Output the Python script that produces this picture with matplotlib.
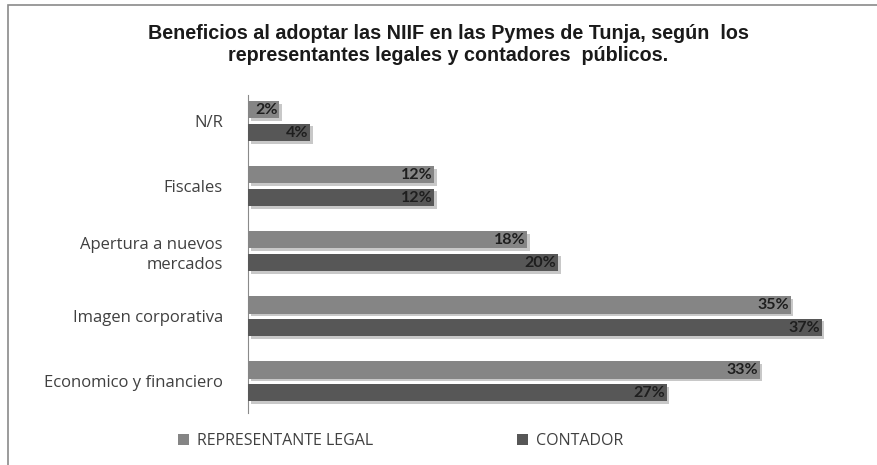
import matplotlib.pyplot as plt
import matplotlib.patheffects as pe
from matplotlib.patches import Rectangle
import numpy as np

# Datos (de abajo hacia arriba)
categorias = ['Economico y financiero', 'Imagen corporativa',
              'Apertura a nuevos\nmercados', 'Fiscales', 'N/R']
representante = [33, 35, 18, 12, 2]
contador = [27, 37, 20, 12, 4]

color_rep = '#858585'
color_con = '#575757'

fig = plt.figure(figsize=(8.77, 4.65), dpi=100)
fig.patches.append(Rectangle((8 / 877, -0.1), 1.5, 1.1 - 5 / 465, transform=fig.transFigure,
                             facecolor='none', edgecolor='#8a8a8a', linewidth=1.2))

ax = fig.add_axes([248 / 877, 1 - 413 / 465, 620 / 877, 318 / 465])

y = np.arange(len(categorias))
h = 0.27
off = 0.175
sombra = [pe.SimplePatchShadow(offset=(2, -2), shadow_rgbFace='#777777', alpha=0.4), pe.Normal()]

b1 = ax.barh(y + off, representante, height=h, color=color_rep, label='REPRESENTANTE LEGAL',
             path_effects=sombra, zorder=3)
b2 = ax.barh(y - off, contador, height=h, color=color_con, label='CONTADOR',
             path_effects=sombra, zorder=3)

for barras, vals in [(b1, representante), (b2, contador)]:
    for bar, v in zip(barras, vals):
        ax.text(v - 0.1, bar.get_y() + bar.get_height() / 2 - 0.01, f'{v}%',
                ha='right', va='center', fontsize=11.5, fontweight='bold',
                color='#1e1e1e', family='Lato', zorder=4)

ax.set_xlim(0, 40)
ax.set_ylim(-0.49, 4.4)
ax.set_yticks(y)
ax.set_yticklabels(categorias, fontsize=12, color='#404040', family='Open Sans', linespacing=1.3)
ax.tick_params(axis='y', length=0, pad=18)
ax.set_xticks([])
for s in ['top', 'right', 'bottom']:
    ax.spines[s].set_visible(False)
ax.spines['left'].set_color('#8a8a8a')

fig.text(0.511, 0.905, 'Beneficios al adoptar las NIIF en las Pymes de Tunja, según  los\n'
         'representantes legales y contadores  públicos.',
         ha='center', va='center', fontsize=14.2, fontweight='bold', family='Liberation Sans',
         color='#1a1a1a', linespacing=1.2)

leg = fig.legend(handles=[b1, b2], loc='center', bbox_to_anchor=(0.457, 0.051), ncol=2,
                 frameon=False, columnspacing=9.0, handlelength=0.7,
                 handleheight=0.7, handletextpad=0.5, prop={'family': 'Open Sans', 'size': 11.5})
for t in leg.get_texts():
    t.set_color('#404040')
for hnd in leg.legend_handles:
    hnd.set_path_effects([])

fig.savefig('out.png', dpi=100)
